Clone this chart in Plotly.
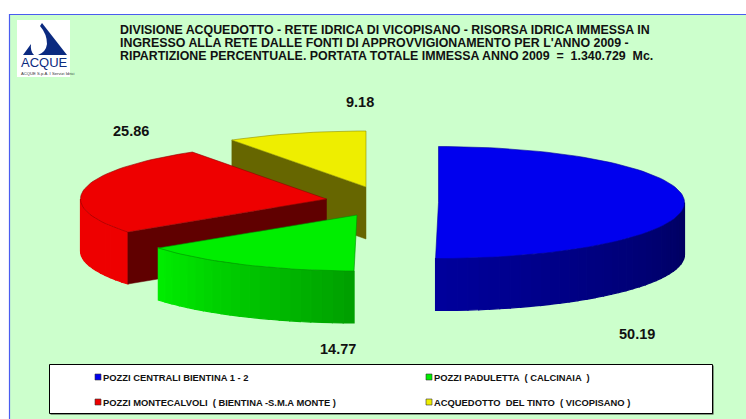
import math
import plotly.graph_objects as go

# ---- data ----
SERIES = ["POZZI CENTRALI BIENTINA 1 - 2", "POZZI PADULETTA  ( CALCINAIA  )",
          "POZZI MONTECALVOLI  ( BIENTINA -S.M.A MONTE )", "ACQUEDOTTO  DEL TINTO  ( VICOPISANO )"]
VALUES = [50.19, 14.77, 25.86, 9.18]
VALUE_LABELS = ["50.19", "14.77", "25.86", "9.18"]
TITLE_LINES = ["DIVISIONE ACQUEDOTTO - RETE IDRICA DI VICOPISANO - RISORSA IDRICA IMMESSA IN",
               "INGRESSO ALLA RETE DALLE FONTI DI APPROVVIGIONAMENTO PER L'ANNO 2009 -",
               "RIPARTIZIONE PERCENTUALE. PORTATA TOTALE IMMESSA ANNO 2009  =  1.340.729  Mc."]

# ---- layout / style ----
W, H = 746, 419
RX, RY, DEPTH = 246, 56, 52
APEX = [(438.5, 202.5), (357, 215), (326.5, 199), (366, 187)]
TOP = ["#0000EE", "#00EE00", "#EE0000", "#EEEE00"]
EDGE = ["#0000A0", "#009000", "#900000", "#909000"]
RIM = [("#00009C", "#00005C"), ("#00EE00", "#009E00"), ("#EE0000", "#EE0000"), ("#666600", "#666600")]
FACE = ["#00009C", "#00B000", "#600000", "#666600"]
LABEL_POS = [(637, 334), (338, 349), (131, 131), (360, 102)]
FONT = "Liberation Sans"

fig = go.Figure()


def poly(xs, ys, color, lw=0.5, lc=None):
    fig.add_trace(go.Scatter(x=xs, y=ys, mode="lines", fill="toself", fillcolor=color,
                             line=dict(color=lc or color, width=lw), hoverinfo="skip", showlegend=False))


def pt(i, deg, dz=0):
    a = math.radians(deg)
    return APEX[i][0] + RX * math.sin(a), APEX[i][1] - RY * math.cos(a) + dz


def lerp(c1, c2, t):
    p = [int(c1[k:k + 2], 16) for k in (1, 3, 5)]
    q = [int(c2[k:k + 2], 16) for k in (1, 3, 5)]
    return "#%02X%02X%02X" % tuple(round(a + (b - a) * t) for a, b in zip(p, q))


# cumulative angles clockwise from 12 o'clock
total = sum(VALUES)
angles = []
acc = 0.0
for v in VALUES:
    angles.append((acc, acc + v / total * 360))
    acc += v / total * 360


def rim(i):
    a0, a1 = angles[i]
    lo, hi = max(a0, 90), min(a1, 270)
    if hi <= lo:
        return
    n = max(4, int((hi - lo) / 2.5))
    for k in range(n):
        s = lo + (hi - lo) * k / n
        e = lo + (hi - lo) * (k + 1) / n
        p, q = pt(i, s), pt(i, e)
        # rim colour runs from the left of the visible arc to the right
        t = (hi - (s + e) / 2) / (hi - lo)
        c = lerp(RIM[i][0], RIM[i][1], t)
        poly([p[0], q[0], q[0], p[0], p[0]], [p[1], q[1], q[1] + DEPTH, p[1] + DEPTH, p[1]], c, lw=1.2)


def top(i):
    a0, a1 = angles[i]
    n = max(6, int((a1 - a0) / 2))
    pts = [pt(i, a0 + (a1 - a0) * k / n) for k in range(n + 1)]
    xs = [APEX[i][0]] + [p[0] for p in pts] + [APEX[i][0]]
    ys = [APEX[i][1]] + [p[1] for p in pts] + [APEX[i][1]]
    poly(xs, ys, TOP[i], lw=0.6, lc=EDGE[i])


def face(i, deg):
    p = pt(i, deg)
    ax, ay = APEX[i]
    poly([ax, p[0], p[0], ax, ax], [ay, p[1], p[1] + DEPTH, ay + DEPTH, ay], FACE[i])


# back to front
face(3, angles[3][0]); top(3)
rim(2); face(2, angles[2][0]); top(2)
rim(1); top(1)
rim(0); top(0)

NAVY = "#0B2A80"
shapes = [
    dict(type="rect", x0=9.5, y0=14.5, x1=W + 5, y1=H + 5, fillcolor="#CCFFCC",
         line=dict(color="#4A5CF0", width=1.2), layer="below"),
    dict(type="rect", x0=17, y0=20, x1=70, y1=77, fillcolor="white", line=dict(width=0), layer="below"),
    dict(type="path", path="M 42 23 L 67 55 L 38 55 Q 46 52 47 44 Q 47 34 40 26 Z",
         fillcolor=NAVY, line=dict(width=0), layer="below"),
    dict(type="path", path="M 23 55 L 31 44 Q 30 51 34 55 Z", fillcolor=NAVY, line=dict(width=0), layer="below"),
    dict(type="rect", x0=50.5, y0=365.5, x1=713.5, y1=414.5, fillcolor="#333333", line=dict(width=0), layer="below"),
    dict(type="rect", x0=49.5, y0=364.5, x1=712.5, y1=413.5, fillcolor="white",
         line=dict(color="black", width=1), layer="below"),
]

ann = []


def text(x, y, s, size, anchor="left", color="#111111", bold=True):
    ann.append(dict(x=x, y=y, xref="x", yref="y", text=f"<b>{s}</b>" if bold else s, showarrow=False,
                    xanchor=anchor, yanchor="middle", borderpad=0,
                    font=dict(family=FONT, size=size, color=color)))


for ty, line in zip((30, 43, 56), TITLE_LINES):
    text(119, ty, line, 12.4)
for (x, y), s in zip(LABEL_POS, VALUE_LABELS):
    text(x, y, s, 14.5, "center")

text(20, 62.5, "ACQUE", 13, color=NAVY, bold=False)
text(20, 73, "ACQUE S.p.A. I Servizi Idrici", 4.2, color="#333333", bold=False)

LEG = [(95, 377), (426, 377), (95, 402), (426, 402)]
for i, (x, y) in enumerate(LEG):
    shapes.append(dict(type="rect", x0=x, y0=y - 3, x1=x + 6, y1=y + 3, fillcolor=TOP[i],
                       line=dict(color="#333333", width=0.6)))
    text(x + 6.5, y, SERIES[i], 9.4)

fig.update_layout(
    width=W, height=H, margin=dict(l=0, r=0, t=0, b=0), autosize=False,
    paper_bgcolor="white", plot_bgcolor="white", shapes=shapes, annotations=ann, showlegend=False,
    xaxis=dict(range=[0, W], visible=False, fixedrange=True),
    yaxis=dict(range=[H, 0], visible=False, fixedrange=True),
)
fig.write_html("out.html", config={"displayModeBar": False},
               post_script="document.body.style.margin='0';document.body.style.overflow='hidden';")
